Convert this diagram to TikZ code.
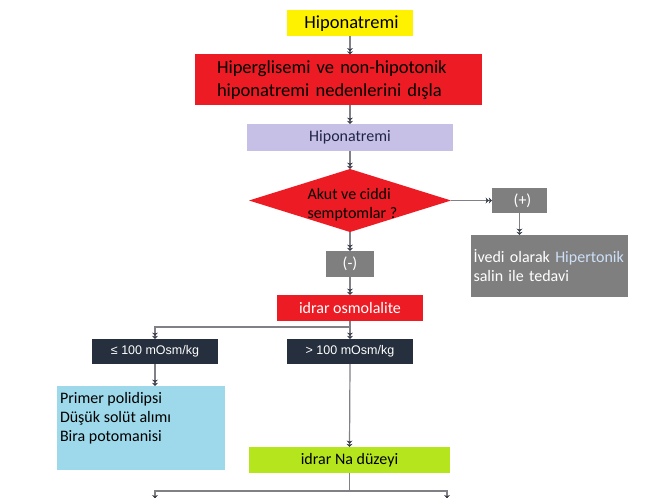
\documentclass[tikz,border=0pt]{standalone}
\usepackage{fontspec}
\setmainfont{Carlito}
\newfontfamily\arialf{Liberation Sans}
\usetikzlibrary{arrows.meta,shapes.geometric}
\definecolor{cyellow}{RGB}{255,242,0}
\definecolor{cred}{RGB}{237,28,36}
\definecolor{clav}{RGB}{199,192,230}
\definecolor{cnavytxt}{RGB}{30,36,72}
\definecolor{cgray}{RGB}{127,127,127}
\definecolor{cdark}{RGB}{38,47,61}
\definecolor{clblue}{RGB}{157,217,234}
\definecolor{cgreen}{RGB}{181,230,29}
\definecolor{cline}{RGB}{128,128,134}
\definecolor{ctip}{RGB}{55,60,72}
\definecolor{chiper}{RGB}{205,224,248}
\begin{document}
\begin{tikzpicture}[x=1bp,y=-1bp,
  box/.style={inner sep=0pt, outer sep=0pt, draw=none},
  fmid/.style={font=\fontsize{16bp}{19bp}\selectfont},
  fbig/.style={font=\fontsize{18.5bp}{23bp}\selectfont},
  farial/.style={font=\arialf\fontsize{12.5bp}{15bp}\selectfont},
  conn/.style={draw=cline, line width=1.2bp,
    -{Stealth[length=3.2bp,width=6bp,inset=1bp,color=ctip]Stealth[length=3.2bp,width=6bp,inset=1bp,color=ctip]}}]
\useasboundingbox (0,0) rectangle (669,498);
\clip (0,0) rectangle (669,498);

% nodes
\node[box, fill=cyellow, fbig, minimum width=126bp, minimum height=26bp] (hip1) at (350,23.5) {\hspace{3bp}Hiponatremi};
\node[box, fill=cred, fbig, minimum width=287bp, minimum height=51bp, text width=243bp, align=left, inner xsep=22bp] (red1) at (338.5,80)
  {Hiperglisemi ve non-hipotonik\\hiponatremi nedenlerini dışla};
\node[box, fill=clav, fmid, text=cnavytxt, minimum width=206bp, minimum height=27bp] (lav) at (350,137.5) {Hiponatremi};
\node[box, diamond, fill=cred, minimum width=202bp, minimum height=63bp] (d) at (350,200.5) {};
\node[box, fmid, align=left, anchor=west] (dtext) at (307.5,205) {Akut ve ciddi\\semptomlar ?};
\node[box, fill=cgray, fmid, text=white, minimum width=55bp, minimum height=25bp] (plus) at (519.5,200.5) {\hspace{6bp}(+)};
\node[box, fill=cgray, fmid, text=white, minimum width=157bp, minimum height=62bp, text width=152bp, align=left, inner xsep=2.5bp] (gray) at (549.5,266)
  {İvedi olarak \textcolor{chiper}{Hipertonik}\\salin ile tedavi};
\node[box, fill=cgray, fmid, text=white, minimum width=48bp, minimum height=26bp] (minus) at (350,264) {(-)};
\node[box, fill=cred, fmid, text=white, minimum width=146bp, minimum height=26bp] (osmo) at (350,308) {idrar osmolalite};
\node[box, fill=cdark, farial, text=white, minimum width=126bp, minimum height=25bp] (le) at (155,351.5) {≤ 100 mOsm/kg};
\node[box, fill=cdark, farial, text=white, minimum width=126bp, minimum height=25bp] (gt) at (350,351.5) {> 100 mOsm/kg};
\node[box, fill=clblue, minimum width=168bp, minimum height=84bp] (lb) at (141,428) {};
\node[box, fmid, align=left, anchor=north west] (lbtext) at (60,392) {Primer polidipsi\\Düşük solüt alımı\\Bira potomanisi};
\node[box, fill=cgreen, fmid, minimum width=201bp, minimum height=26bp] (green) at (349.5,460) {idrar Na düzeyi};
\coordinate (bl) at (155,501.5);
\coordinate (bR) at (447,501.5);

% connectors
\draw[conn] (hip1.south) -- (hip1.south |- red1.north);
\draw[conn] (lav.north |- red1.south) -- (lav.north);
\draw[conn] (lav.south) -- (d.north);
\draw[conn] (d.east) -- (plus.west);
\draw[conn] (plus.south) -- (plus.south |- gray.north);
\draw[conn] (d.south) -- (minus.north);
\draw[conn] (minus.south) -- (osmo.north);
\draw[conn] (osmo.south) -- ++(0,6) -| (le.north);
\draw[conn] (osmo.south) -- (gt.north);
\draw[conn] (le.south) -- (le.south |- lb.north);
\draw[conn] (gt.south) -- (green.north);
\draw[conn] (green.south) -- ++(0,18) -| (bl);
\draw[conn] (green.south) -- ++(0,18) -| (bR);
\end{tikzpicture}
\end{document}
